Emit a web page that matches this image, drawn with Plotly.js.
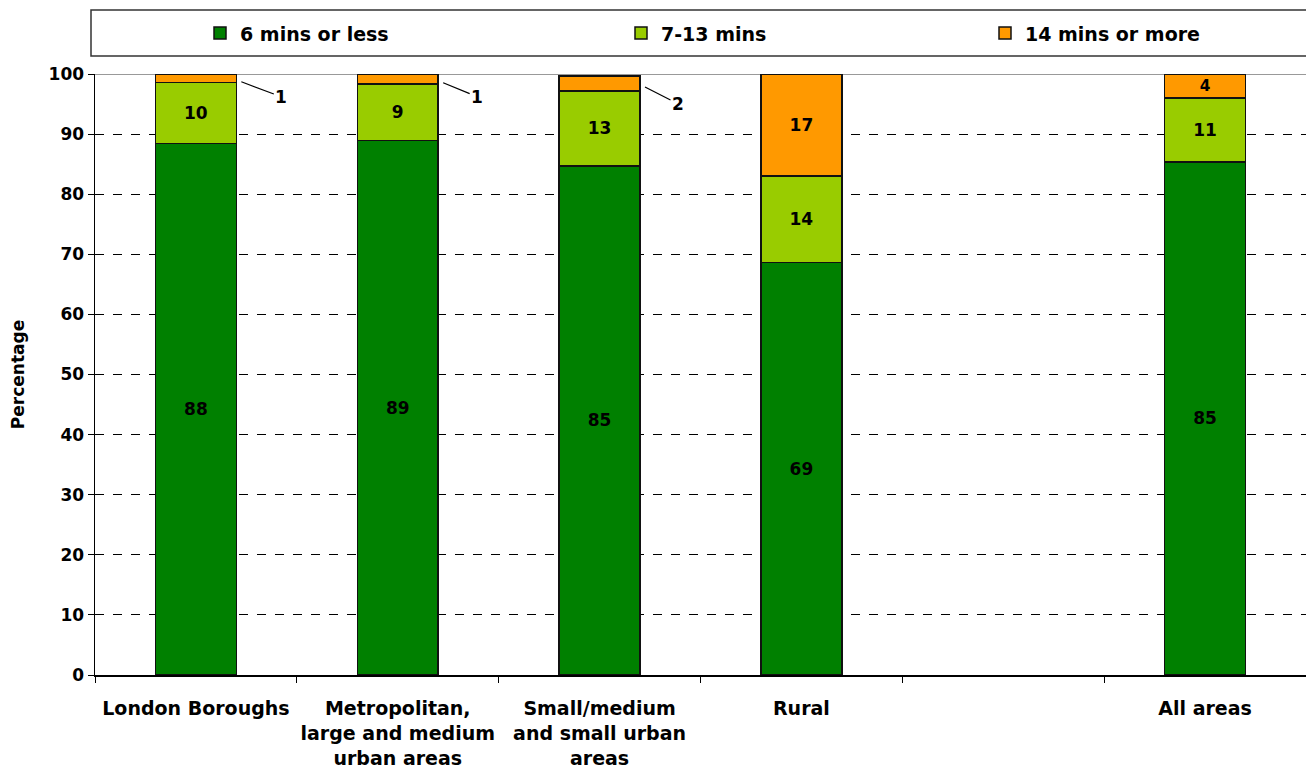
<!DOCTYPE html>
<html>
<head>
<meta charset="utf-8">
<script src="https://cdn.plot.ly/plotly-3.0.1.min.js"></script>
<style>html,body{margin:0;padding:0;background:#fff;}#chart{width:1306px;height:773px;}</style>
</head>
<body>
<div id="chart"></div>
<script>
var categories = ["London Boroughs", "Metropolitan,<br>large and medium<br>urban areas", "Small/medium<br>and small urban<br>areas", "Rural", " ", "All areas"];
var seriesNames = ["6 mins or less", "7-13 mins", "14 mins or more"];
var short = [88.4, 88.9, 84.7, 68.6, null, 85.4];
var medium = [10.2, 9.4, 12.5, 14.4, null, 10.6];
var long = [1.4, 1.7, 2.5, 17.0, null, 4.0];
var shortLabels = ["88", "89", "85", "69", "", "85"];
var mediumLabels = ["10", "9", "13", "14", "", "11"];
var longLabels = ["", "", "", "17", "", "4"];
var outsideLabels = [["1", 0], ["1", 1], ["2", 2]];

var colors = ["#008000", "#99CC00", "#FF9900"];
var lbl = {family: "DejaVu Sans, Arial, sans-serif", size: 17, color: "#000", weight: "bold"};
var big = {family: "DejaVu Sans, Arial, sans-serif", size: 19, color: "#000", weight: "bold"};

function barTrace(vals, labels, i, legendId) {
  return {
    type: "bar", name: seriesNames[i], x: categories, y: vals,
    text: labels,
    textposition: "inside", insidetextanchor: "middle", textangle: 0,
    textfont: lbl, hoverinfo: "skip",
    marker: {color: colors[i], line: {color: "#111", width: 1.5}},
    width: 0.4, legend: legendId
  };
}
var data = [
  barTrace(short, shortLabels, 0, "legend"),
  barTrace(medium, mediumLabels, 1, "legend2"),
  barTrace(long, longLabels, 2, "legend3")
];

var offsets = [[40, 15], [34, 14], [33, 17]];
var annotations = outsideLabels.map(function(o, k) {
  var idx = o[1];
  var top = short[idx] + medium[idx] + long[idx];
  return {
    x: idx + 0.225, y: top - long[idx] / 2 - 0.6, xref: "x", yref: "y",
    text: o[0], font: lbl, showarrow: true, arrowhead: 0,
    arrowwidth: 1.2, arrowcolor: "#000", ax: offsets[k][0], ay: offsets[k][1], standoff: 0
  };
});

function legendBox(x) {
  return {orientation: "h", x: x, xref: "container", y: 0.957, yref: "container",
    xanchor: "left", yanchor: "middle", bgcolor: "rgba(0,0,0,0)", borderwidth: 0,
    font: big, itemwidth: 30};
}

var layout = {
  width: 1306, height: 773,
  margin: {l: 95, r: 0, t: 74, b: 98},
  paper_bgcolor: "#fff", plot_bgcolor: "#fff",
  barmode: "stack", bargap: 0.6,
  showlegend: true,
  legend: legendBox(200 / 1306),
  legend2: legendBox(621 / 1306),
  legend3: legendBox(985 / 1306),
  xaxis: {
    type: "category", range: [-0.5, 5.5], tickson: "boundaries",
    ticks: "outside", ticklen: 6, tickcolor: "#000", tickwidth: 1,
    showline: true, linecolor: "#000", linewidth: 1.5, showgrid: false,
    tickfont: big, tickangle: 0, ticklabelstandoff: 16, fixedrange: true
  },
  yaxis: {
    range: [0, 100], dtick: 10, tick0: 0,
    ticks: "outside", ticklen: 6, tickcolor: "#000",
    showline: true, linecolor: "#000", linewidth: 1.5,
    showgrid: true, gridcolor: "#000", griddash: "dash", gridwidth: 1,
    zeroline: false, tickfont: lbl,
    title: {text: "Percentage", font: lbl, standoff: 19}
  },
  shapes: [
    {type: "line", xref: "paper", yref: "y", x0: 0, x1: 1, y0: 100, y1: 100,
     line: {color: "#999", width: 2}, layer: "below"},
    {type: "rect", xref: "paper", yref: "paper", x0: -0.0033, x1: 1.01,
     y0: (675 - 56) / 601, y1: (675 - 10) / 601, line: {color: "#333", width: 1.5}, layer: "below"}
  ],
  annotations: annotations
};

Plotly.newPlot("chart", data, layout, {displayModeBar: false, staticPlot: true});
</script>
</body>
</html>
